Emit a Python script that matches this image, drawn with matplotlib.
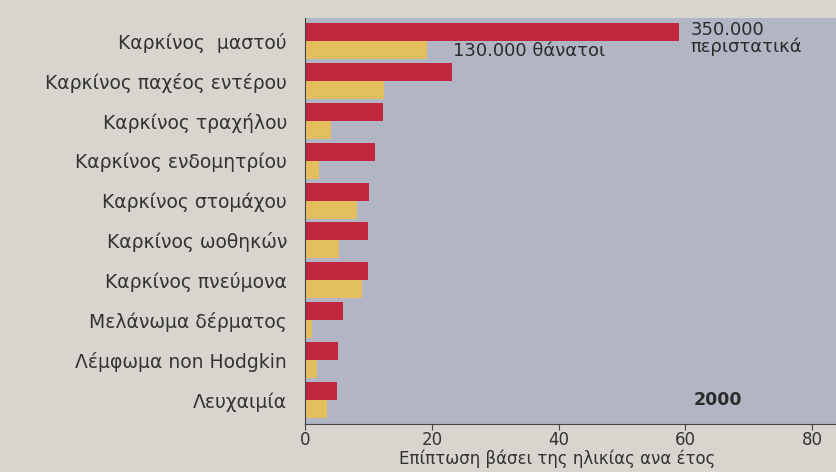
import numpy as np
import matplotlib.pyplot as plt

categories = ['Καρκίνος  μαστού', 'Καρκίνος παχέος εντέρου', 'Καρκίνος τραχήλου',
              'Καρκίνος ενδομητρίου', 'Καρκίνος στομάχου', 'Καρκίνος ωοθηκών',
              'Καρκίνος πνεύμονα', 'Μελάνωμα δέρματος', 'Λέμφωμα non Hodgkin', 'Λευχαιμία']
cases = [59.0, 23.2, 12.3, 11.1, 10.1, 10.0, 10.0, 5.9, 5.2, 5.1]
deaths = [19.3, 12.5, 4.1, 2.2, 8.2, 5.3, 8.9, 1.1, 1.9, 3.5]
xticks = [0, 20, 40, 60, 80]

plt.rcParams['font.family'] = ['DejaVu Sans']

fig = plt.figure(figsize=(8.36, 4.72), dpi=100)
fig.patch.set_facecolor('#d8d5cf')
ax = fig.add_axes([0.365, 0.102, 0.635, 0.86])
ax.set_facecolor('#b2b6c4')

y = np.arange(len(categories))
h = 0.45
ax.barh(y - h / 2, cases, height=h, color='#c1283f')
ax.barh(y + h / 2, deaths, height=h, color='#e3bf5f')

ax.set_ylim(9.6, -0.58)
ax.set_xlim(0, 83.8)
ax.set_yticks(y)
ax.set_yticklabels(categories, fontsize=13.5, color='#333333')
ax.set_xticks(xticks)
ax.set_xticklabels([str(t) for t in xticks], fontsize=12, color='#333333')
ax.tick_params(axis='y', length=0, pad=13)
ax.tick_params(axis='x', length=4, color='#444444', pad=1.5)

for s in ['top', 'right']:
    ax.spines[s].set_visible(False)
ax.spines['left'].set_color('#444444')
ax.spines['bottom'].set_color('#444444')

ax.text(60.8, -0.5, '350.000\nπεριστατικά', fontsize=13, va='top', ha='left',
        color='#2b2b2b', linespacing=0.9)
ax.text(23.3, 0.25, '130.000 θάνατοι', fontsize=13, va='center', ha='left', color='#2b2b2b')
ax.text(65.1, 9.0, '2000', fontsize=12.5, fontweight='bold', va='center', ha='center', color='#2b2b2b')
ax.set_xlabel('Επίπτωση βάσει της ηλικίας ανα έτος', fontsize=12, color='#333333')
ax.xaxis.set_label_coords(0.474, -0.063)

fig.savefig('out.png', dpi=100, facecolor=fig.get_facecolor())
